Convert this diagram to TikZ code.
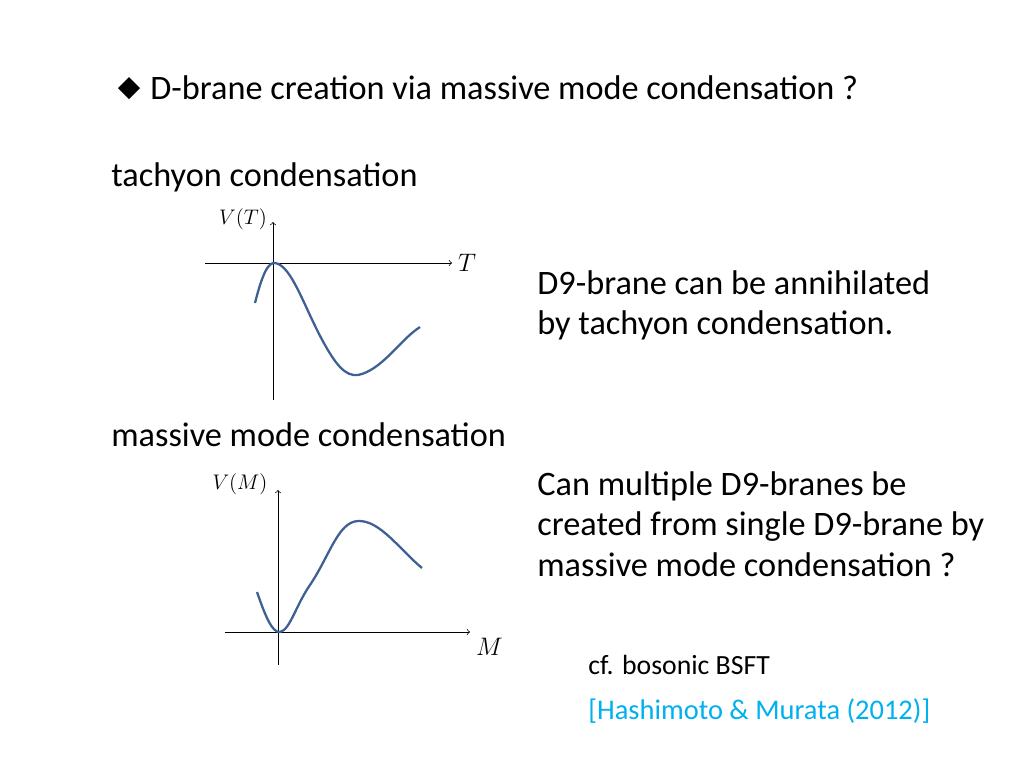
\documentclass[tikz,border=0pt]{standalone}
\usepackage{fontspec}
\setmainfont{Carlito}
\usepackage{tikz}
\definecolor{curveblue}{RGB}{62,96,148}
\definecolor{citeblue}{RGB}{0,176,240}
\begin{document}
\begin{tikzpicture}[x=0.02cm,y=-0.02cm,
  txt/.style={anchor=west,inner sep=0pt,font=\fontsize{19.5}{23.2}\selectfont},
  axis/.style={->,thin},
  pot/.style={curveblue,line width=1.3pt}]
  \useasboundingbox (0,0) rectangle (1024,768);

  \fill (129,77) -- (140,88) -- (129,99) -- (118,88) -- cycle;
  \node[txt] (title) at (150,88) {D-brane creation via massive mode condensation ?};
  \node[txt] (tach) at (111,177) {tachyon condensation};
  \node[txt] (mass) at (111,435) {massive mode condensation};

  % tachyon potential
  \draw[axis] (205,263) -- (452,263) node[right,font=\Large] (T) {$T$};
  \draw[axis] (273,400) -- (273,222);
  \node[font=\large] (VT) at (243,219) {$V(T)$};
  \draw[pot] (255,303) .. controls (262,275) and (268,262) .. (275,263)
     .. controls (292,265) and (305,310) .. (325,345)
     .. controls (340,372) and (350,378) .. (362,374)
     .. controls (385,366) and (400,340) .. (420,327);

  % massive mode potential
  \draw[axis] (225,632) -- (470,632) node[below right,font=\Large] (M) {$M$};
  \draw[axis] (278,665) -- (278,490);
  \node[font=\large] (VM) at (240,484) {$V(M)$};
  \draw[pot] (257,592) .. controls (265,615) and (272,633) .. (280,632)
     .. controls (290,630) and (296,605) .. (310,585)
     .. controls (330,555) and (338,522) .. (358,521)
     .. controls (380,520) and (400,550) .. (422,568);

  \node[txt,align=left,anchor=north west] (ann1) at (537,270)
    {D9-brane can be annihilated\\by tachyon condensation.};
  \node[txt,align=left,anchor=north west] (ann2) at (537,471)
    {Can multiple D9-branes be\\created from single D9-brane by\\massive mode condensation ?};
  \node[anchor=west,inner sep=0pt,font=\fontsize{15.8}{18}\selectfont] (cf) at (588,665) {cf. bosonic BSFT};
  \node[txt,text=citeblue,font=\fontsize{16.2}{19}\selectfont] (ref) at (588,711) {[Hashimoto \& Murata (2012)]};
\end{tikzpicture}
\end{document}
